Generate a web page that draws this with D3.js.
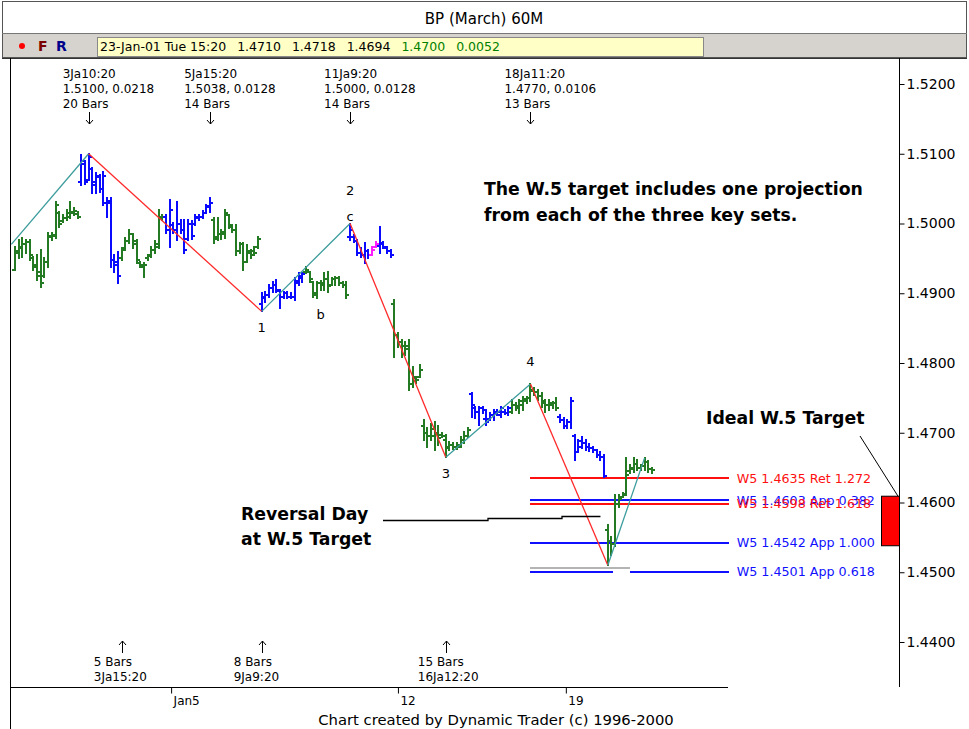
<!DOCTYPE html>
<html>
<head>
<meta charset="utf-8">
<script src="https://cdn.jsdelivr.net/npm/d3@7/dist/d3.min.js"></script>
<style>
  body { margin: 0; background: #fff; }
  svg { display: block; }
  text { font-family: "DejaVu Sans", sans-serif; }
</style>
</head>
<body>
<script>
// hourly bars [open, high, low, close], BP March, early Jan 2001
const priceBars = [
  [1.4934,1.4966,1.4933,1.4960],[1.4958,1.4976,1.4950,1.4966],[1.4965,1.4979,1.4952,1.4970],[1.4970,1.4976,1.4958,1.4974],
  [1.4974,1.4976,1.4948,1.4955],[1.4950,1.4952,1.4933,1.4938],[1.4940,1.4955,1.4919,1.4930],[1.4925,1.4962,1.4909,1.4915],
  [1.4925,1.4950,1.4923,1.4945],[1.4945,1.4986,1.4938,1.4982],[1.4980,1.4986,1.4976,1.4984],[1.4982,1.5031,1.4979,1.5026],
  [1.5015,1.5017,1.4995,1.5000],[1.5004,1.5012,1.5002,1.5008],[1.5008,1.5020,1.5005,1.5015],[1.5010,1.5031,1.5008,1.5016],
  [1.5015,1.5022,1.5012,1.5018],[1.5014,1.5017,1.5008,1.5010],
  [1.5060,1.5098,1.5055,1.5090],[1.5085,1.5090,1.5056,1.5060],[1.5062,1.5100,1.5062,1.5095],[1.5078,1.5080,1.5044,1.5060],
  [1.5055,1.5072,1.5044,1.5068],[1.5066,1.5070,1.5045,1.5050],[1.5050,1.5074,1.5026,1.5068],[1.5030,1.5037,1.5010,1.5032],
  [1.5030,1.5037,1.4937,1.4948],[1.4948,1.4955,1.4930,1.4940],[1.4945,1.4959,1.4915,1.4925],
  [1.4950,1.4965,1.4948,1.4962],[1.4965,1.4979,1.4962,1.4975],[1.4975,1.4991,1.4972,1.4985],[1.4985,1.4985,1.4965,1.4970],
  [1.4975,1.4976,1.4943,1.4948],[1.4943,1.4945,1.4938,1.4940],[1.4938,1.4943,1.4923,1.4940],[1.4950,1.4955,1.4948,1.4953],
  [1.4955,1.4966,1.4952,1.4962],[1.4962,1.4975,1.4958,1.4970],[1.4966,1.5019,1.4965,1.5010],[1.5008,1.5012,1.5005,1.5010],
  [1.5010,1.5012,1.4986,1.4990],[1.4990,1.5034,1.4966,1.5020],[1.4998,1.5001,1.4986,1.4990],[1.4990,1.5031,1.4976,1.5000],
  [1.5000,1.5005,1.4986,1.4990],[1.4990,1.5005,1.4958,1.4962],[1.4978,1.5005,1.4976,1.5000],[1.5000,1.5004,1.4978,1.4982],
  [1.5000,1.5012,1.4998,1.5010],[1.5008,1.5012,1.5005,1.5010],[1.5010,1.5018,1.5008,1.5015],[1.5015,1.5026,1.5015,1.5024],
  [1.5025,1.5037,1.5016,1.5030],
  [1.5005,1.5008,1.4972,1.4978],[1.4980,1.5008,1.4976,1.4985],[1.4985,1.4990,1.4978,1.4988],[1.4985,1.5019,1.4979,1.5015],
  [1.5012,1.5012,1.4993,1.4998],[1.4995,1.4998,1.4988,1.4990],[1.4990,1.4998,1.4955,1.4960],[1.4960,1.4972,1.4958,1.4970],
  [1.4970,1.4972,1.4933,1.4945],[1.4945,1.4969,1.4945,1.4960],[1.4958,1.4962,1.4950,1.4955],[1.4960,1.4966,1.4955,1.4958],
  [1.4966,1.4980,1.4965,1.4978],
  [1.4885,1.4900,1.4874,1.4895],[1.4893,1.4902,1.4887,1.4898],[1.4898,1.4912,1.4895,1.4908],[1.4908,1.4916,1.4902,1.4912],
  [1.4912,1.4919,1.4902,1.4905],[1.4903,1.4905,1.4879,1.4895],[1.4895,1.4902,1.4893,1.4900],[1.4900,1.4902,1.4893,1.4895],
  [1.4895,1.4900,1.4893,1.4895],[1.4895,1.4922,1.4890,1.4918],[1.4915,1.4929,1.4912,1.4925],[1.4922,1.4929,1.4916,1.4928],
  [1.4930,1.4938,1.4929,1.4934],[1.4930,1.4930,1.4916,1.4920],[1.4916,1.4916,1.4895,1.4900],[1.4898,1.4916,1.4893,1.4914],
  [1.4914,1.4918,1.4905,1.4912],[1.4914,1.4929,1.4905,1.4920],[1.4920,1.4931,1.4902,1.4910],[1.4912,1.4922,1.4912,1.4920],
  [1.4920,1.4923,1.4912,1.4922],[1.4922,1.4923,1.4912,1.4915],[1.4915,1.4916,1.4909,1.4912],[1.4912,1.4916,1.4893,1.4898],
  [1.4980,1.5000,1.4976,1.4990],[1.4980,1.4983,1.4973,1.4975],[1.4975,1.4976,1.4955,1.4958],[1.4958,1.4965,1.4952,1.4955],
  [1.4955,1.4972,1.4943,1.4960],[1.4960,1.4962,1.4950,1.4955],
  [1.4955,1.4966,1.4955,1.4962],[1.4966,1.4973,1.4966,1.4970],
  [1.4968,1.4995,1.4958,1.4972],[1.4970,1.4973,1.4965,1.4966],[1.4965,1.4966,1.4958,1.4960],[1.4960,1.4962,1.4952,1.4955],
  [1.4885,1.4890,1.4808,1.4840],[1.4840,1.4843,1.4823,1.4830],[1.4830,1.4833,1.4808,1.4825],[1.4825,1.4830,1.4812,1.4820],
  [1.4825,1.4833,1.4761,1.4770],[1.4770,1.4794,1.4765,1.4780],[1.4778,1.4780,1.4771,1.4776],[1.4780,1.4797,1.4780,1.4790],
  [1.4710,1.4718,1.4690,1.4700],[1.4700,1.4707,1.4680,1.4695],[1.4695,1.4712,1.4690,1.4705],[1.4695,1.4715,1.4675,1.4700],
  [1.4700,1.4710,1.4683,1.4692],[1.4697,1.4700,1.4694,1.4696],[1.4690,1.4697,1.4665,1.4680],[1.4678,1.4687,1.4675,1.4683],
  [1.4683,1.4685,1.4677,1.4680],[1.4680,1.4686,1.4676,1.4683],[1.4680,1.4694,1.4680,1.4690],[1.4690,1.4701,1.4685,1.4695],
  [1.4696,1.4707,1.4694,1.4704],
  [1.4755,1.4757,1.4723,1.4740],[1.4735,1.4737,1.4721,1.4730],[1.4730,1.4737,1.4711,1.4735],[1.4735,1.4737,1.4728,1.4733],
  [1.4720,1.4732,1.4711,1.4715],[1.4720,1.4728,1.4718,1.4725],[1.4725,1.4732,1.4718,1.4730],[1.4728,1.4732,1.4725,1.4730],
  [1.4725,1.4737,1.4722,1.4735],[1.4730,1.4732,1.4727,1.4728],[1.4728,1.4737,1.4725,1.4735],
  [1.4730,1.4747,1.4728,1.4740],[1.4740,1.4743,1.4733,1.4738],[1.4735,1.4747,1.4728,1.4745],[1.4740,1.4751,1.4733,1.4748],
  [1.4745,1.4751,1.4743,1.4750],[1.4750,1.4770,1.4745,1.4762],[1.4760,1.4764,1.4754,1.4758],[1.4758,1.4761,1.4747,1.4752],
  [1.4752,1.4757,1.4737,1.4742],[1.4745,1.4747,1.4730,1.4740],[1.4740,1.4747,1.4732,1.4742],[1.4740,1.4744,1.4735,1.4742],
  [1.4742,1.4750,1.4732,1.4735],
  [1.4722,1.4725,1.4715,1.4718],[1.4718,1.4721,1.4707,1.4710],[1.4710,1.4718,1.4707,1.4715],[1.4715,1.4750,1.4707,1.4745],
  [1.4695,1.4697,1.4661,1.4672],[1.4672,1.4690,1.4672,1.4688],[1.4680,1.4694,1.4678,1.4685],[1.4685,1.4690,1.4675,1.4680],
  [1.4680,1.4684,1.4674,1.4678],[1.4678,1.4680,1.4672,1.4675],[1.4675,1.4675,1.4665,1.4668],[1.4668,1.4672,1.4661,1.4665],
  [1.4665,1.4668,1.4636,1.4638],
  [1.4560,1.4568,1.4510,1.4545],[1.4545,1.4550,1.4525,1.4540],[1.4540,1.4611,1.4538,1.4598],[1.4598,1.4611,1.4593,1.4605],
  [1.4608,1.4613,1.4608,1.4611],[1.4612,1.4664,1.4611,1.4640],[1.4645,1.4654,1.4642,1.4650],[1.4648,1.4664,1.4644,1.4655],
  [1.4655,1.4661,1.4647,1.4650],[1.4650,1.4654,1.4647,1.4652],[1.4652,1.4664,1.4647,1.4658],[1.4658,1.4660,1.4644,1.4648],
  [1.4648,1.4650,1.4642,1.4646]
];

// bar colour state, as runs: [state, number of bars]
const barStateRuns = [['g',18],['b',11],['g',12],['b',13],['g',13],['b',12],['g',12],['b',6],['m',2],['b',4],
                      ['g',21],['b',11],['g',13],['b',13],['g',13]];

// swing pivots: [bar index, price]
const swings = [[-1,1.4970],[20,1.5100],[67,1.4874],[91,1.5000],[117,1.4665],[140,1.4770],[161,1.4510],[171,1.4664]];
const swingLabels = [
  {bar: 67, price: 1.4874, text: '1', dy: 21},
  {bar: 91, price: 1.5000, text: 'c', dy: -3},
  {bar: 91, price: 1.5000, text: '2', dy: -29},
  {bar: 83, price: 1.4893, text: 'b', dy: 21},
  {bar: 117, price: 1.4665, text: '3', dy: 21},
  {bar: 140, price: 1.4770, text: '4', dy: -18}
];

const topMarks = [
  {bar: 20, lines: ['3Ja10:20', '1.5100, 0.0218', '20 Bars']},
  {bar: 53, lines: ['5Ja15:20', '1.5038, 0.0128', '14 Bars']},
  {bar: 91, lines: ['11Ja9:20', '1.5000, 0.0128', '14 Bars']},
  {bar: 140, lines: ['18Ja11:20', '1.4770, 0.0106', '13 Bars']}
];
const bottomMarks = [
  {bar: 29, lines: ['5 Bars', '3Ja15:20']},
  {bar: 67, lines: ['8 Bars', '9Ja9:20']},
  {bar: 117, lines: ['15 Bars', '16Ja12:20']}
];

// W.5 projections
const targets = [
  {price: 1.4635, kind: 'Ret', ratio: '1.272'},
  {price: 1.4603, kind: 'App', ratio: '0.382'},
  {price: 1.4598, kind: 'Ret', ratio: '1.618'},
  {price: 1.4542, kind: 'App', ratio: '1.000'},
  {price: 1.4501, kind: 'App', ratio: '0.618'}
];
const targetZone = [1.4538, 1.4609];

const dateTicks = [{bar: 42.4, label: 'Jan5'}, {bar: 104, label: '12'}, {bar: 149.6, label: '19'}];
const priceTicks = d3.range(1.44, 1.5201, 0.01);
const infoFields = ['23-Jan-01 Tue 15:20', '1.4710', '1.4718', '1.4694', '1.4700', '0.0052'];

const stateColour = {g: '#237a23', b: '#0a0aff', m: '#ff1cff'};
const kindColour = {Ret: '#ff1010', App: '#1010ff'};

const states = barStateRuns.flatMap(([s, n]) => Array(n).fill(s));

const svg = d3.select('body').append('svg').attr('width', 969).attr('height', 729);

const x = d3.scaleLinear().domain([0, priceBars.length - 1]).range([15, 652]);
const y = d3.scaleLinear().domain([1.44, 1.52]).range([642, 84]);

// ---- header ----
svg.append('rect').attr('x', 2.5).attr('y', 1.5).attr('width', 964).attr('height', 56)
    .attr('fill', '#fff').attr('stroke', '#555');
svg.append('text').attr('x', 484).attr('y', 24).attr('text-anchor', 'middle')
    .attr('font-size', 15).text('BP (March) 60M');
svg.append('rect').attr('x', 3).attr('y', 33).attr('width', 963).attr('height', 24).attr('fill', '#d6d3ce');
svg.append('line').attr('x1', 2).attr('x2', 967).attr('y1', 33.5).attr('y2', 33.5).attr('stroke', '#777');
svg.append('circle').attr('cx', 22).attr('cy', 46).attr('r', 3).attr('fill', '#f00');
svg.append('text').attr('x', 38).attr('y', 51).attr('font-size', 14).attr('font-weight', 'bold')
    .attr('fill', '#7a0000').text('F');
svg.append('text').attr('x', 56).attr('y', 51).attr('font-size', 14).attr('font-weight', 'bold')
    .attr('fill', '#00008b').text('R');
svg.append('rect').attr('x', 97.5).attr('y', 37.5).attr('width', 606).attr('height', 19)
    .attr('fill', '#ffffc6').attr('stroke', '#888');
let fx = 100;
infoFields.forEach((f, i) => {
    const t = svg.append('text').attr('x', fx).attr('y', 51).attr('font-size', 12.5)
        .attr('fill', i >= 4 ? '#008000' : '#000').text(f);
    fx += t.node().getComputedTextLength() + 11;
});

// ---- chart frame ----
svg.append('line').attr('x1', 2).attr('x2', 967).attr('y1', 58.5).attr('y2', 58.5).attr('stroke', '#333');
svg.append('line').attr('x1', 10.5).attr('x2', 10.5).attr('y1', 58).attr('y2', 729).attr('stroke', '#000');
svg.append('line').attr('x1', 899.5).attr('x2', 899.5).attr('y1', 58).attr('y2', 687).attr('stroke', '#000');
svg.append('line').attr('x1', 10).attr('x2', 728).attr('y1', 687.5).attr('y2', 687.5).attr('stroke', '#000');

// price axis
const yAxis = svg.append('g').attr('transform', 'translate(899.5,0)')
    .call(d3.axisRight(y).tickValues(priceTicks).tickFormat(d3.format('.4f')).tickSize(5).tickPadding(2));
yAxis.select('.domain').remove();
yAxis.selectAll('line').attr('stroke', '#000');
yAxis.selectAll('text').attr('font-size', 14).attr('font-family', '"DejaVu Sans", sans-serif').attr('fill', '#000');

// date axis
const xAxis = svg.append('g').attr('transform', 'translate(0,687.5)')
    .call(d3.axisBottom(x).tickValues(dateTicks.map(d => d.bar))
        .tickFormat((d, i) => dateTicks[i].label).tickSize(6));
xAxis.select('.domain').remove();
xAxis.selectAll('line').attr('stroke', '#000');
xAxis.selectAll('text').attr('font-size', 12).attr('font-family', '"DejaVu Sans", sans-serif')
    .attr('fill', '#000').attr('text-anchor', 'start').attr('dx', 2).attr('dy', 8);

// ---- W.5 projection lines ----
const tgt = svg.append('g').attr('shape-rendering', 'crispEdges');
tgt.append('line').attr('x1', x(140)).attr('x2', x(167))
    .attr('y1', y(1.4506)).attr('y2', y(1.4506)).attr('stroke', '#b4b4b4').attr('stroke-width', 2);
targets.forEach(t => {
    const yy = Math.round(y(t.price));
    const segs = t.ratio === '0.618' && t.kind === 'App' ? [[140, 162.5], [167, 194]] : [[140, 194]];
    segs.forEach(([a, b]) => {
        tgt.append('line').attr('x1', x(a)).attr('x2', x(b)).attr('y1', yy).attr('y2', yy)
            .attr('stroke', kindColour[t.kind]).attr('stroke-width', 2);
    });
});
targets.forEach(t => {
    svg.append('text').attr('x', x(196)).attr('y', y(t.price) + 4.5).attr('font-size', 12.7)
        .attr('fill', kindColour[t.kind]).text(`W5 ${t.price.toFixed(4)} ${t.kind} ${t.ratio}`);
});

// ---- price bars ----
const barG = svg.append('g').attr('shape-rendering', 'crispEdges');
const bar = barG.selectAll('g').data(priceBars).join('g')
    .attr('stroke', (d, i) => stateColour[states[i]]).attr('stroke-width', 2);
bar.append('line').attr('x1', (d, i) => x(i)).attr('x2', (d, i) => x(i))
    .attr('y1', d => y(d[1]) - 1).attr('y2', d => y(d[2]) + 1);
bar.append('line').attr('x1', (d, i) => x(i) - 3).attr('x2', (d, i) => x(i))
    .attr('y1', d => y(d[0])).attr('y2', d => y(d[0]));
bar.append('line').attr('x1', (d, i) => x(i)).attr('x2', (d, i) => x(i) + 3)
    .attr('y1', d => y(d[3])).attr('y2', d => y(d[3]));

// ---- swing zigzag ----
for (let k = 1; k < swings.length; k++) {
    const [a, pa] = swings[k - 1], [b, pb] = swings[k];
    svg.append('line').attr('x1', x(a)).attr('y1', y(pa)).attr('x2', x(b)).attr('y2', y(pb))
        .attr('stroke', pb > pa ? '#3d9c9c' : '#ff2a2a').attr('stroke-width', 1.3);
}
svg.selectAll('text.swing').data(swingLabels).join('text').attr('class', 'swing')
    .attr('x', d => x(d.bar)).attr('text-anchor', 'middle').attr('font-size', 13)
    .attr('y', d => y(d.price) + d.dy)
    .text(d => d.text);

// ---- time/price annotations ----
function arrow(ax, y0, y1) {
    const dir = y1 > y0 ? -1 : 1;
    svg.append('path')
        .attr('d', `M${ax},${y0}V${y1}M${ax - 3.5},${y1 + dir * 4}L${ax},${y1}L${ax + 3.5},${y1 + dir * 4}`)
        .attr('fill', 'none').attr('stroke', '#000').attr('stroke-width', 1);
}
topMarks.forEach(m => {
    const g = svg.append('g').attr('font-size', 12);
    m.lines.forEach((l, i) => g.append('text').attr('x', x(m.bar) - 26).attr('y', 78 + i * 15).text(l));
    arrow(Math.round(x(m.bar)) + 0.5, 112, 124);
});
bottomMarks.forEach(m => {
    const g = svg.append('g').attr('font-size', 12);
    arrow(Math.round(x(m.bar)) + 0.5, 653, 641);
    m.lines.forEach((l, i) => g.append('text').attr('x', x(m.bar) - 28).attr('y', 666 + i * 15).text(l));
});

// ---- target zone box ----
svg.append('rect').attr('x', 881.5).attr('y', y(targetZone[1])).attr('width', 18)
    .attr('height', y(targetZone[0]) - y(targetZone[1])).attr('fill', '#ff0000').attr('stroke', '#000');

// ---- notes ----
function note(tx, ty, str) {
    svg.append('text').attr('x', tx).attr('y', ty).attr('font-size', 17.3).attr('font-weight', 'bold').text(str);
}
note(484, 195, 'The W.5 target includes one projection');
note(484, 221, 'from each of the three key sets.');
note(706, 424, 'Ideal W.5 Target');
note(241, 520, 'Reversal Day');
note(241, 545, 'at W.5 Target');
svg.append('line').attr('x1', 860).attr('y1', 436).attr('x2', 898).attr('y2', y(targetZone[1]))
    .attr('stroke', '#000').attr('stroke-width', 1);
svg.append('path').attr('d', `M383,520.5H488V518.5H562V516.5H${x(159)}`)
    .attr('fill', 'none').attr('stroke', '#000').attr('stroke-width', 1.3);

svg.append('text').attr('x', 496).attr('y', 725).attr('text-anchor', 'middle').attr('font-size', 14.8)
    .text('Chart created by Dynamic Trader (c) 1996-2000');
</script>
</body>
</html>
